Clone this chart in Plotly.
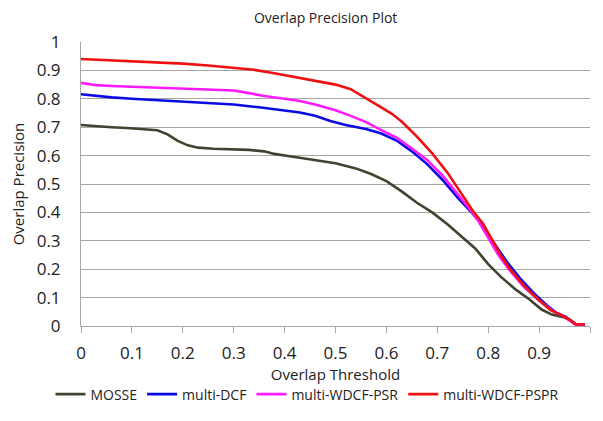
import plotly.graph_objects as go

mosse_x = [0, 0.03, 0.06, 0.09, 0.12, 0.15, 0.17, 0.19, 0.21, 0.23, 0.26, 0.3, 0.33, 0.36, 0.38, 0.41, 0.45, 0.5, 0.54, 0.57, 0.6, 0.63, 0.66, 0.69, 0.72, 0.75, 0.775, 0.8, 0.825, 0.855, 0.88, 0.905, 0.925, 0.95, 0.962, 0.972, 0.99]
mosse_y = [0.708, 0.703, 0.70, 0.697, 0.694, 0.689, 0.675, 0.652, 0.636, 0.628, 0.624, 0.622, 0.620, 0.615, 0.606, 0.598, 0.588, 0.573, 0.555, 0.535, 0.510, 0.474, 0.434, 0.400, 0.358, 0.310, 0.272, 0.218, 0.173, 0.127, 0.095, 0.058, 0.040, 0.030, 0.020, 0.006, 0.005]

dcf_x = [0, 0.03, 0.06, 0.1, 0.15, 0.2, 0.25, 0.3, 0.35, 0.4, 0.43, 0.46, 0.49, 0.52, 0.56, 0.59, 0.62, 0.65, 0.68, 0.71, 0.74, 0.77, 0.79, 0.81, 0.837, 0.863, 0.89, 0.915, 0.935, 0.952, 0.972, 0.99]
dcf_y = [0.816, 0.81, 0.805, 0.800, 0.795, 0.79, 0.787, 0.78, 0.77, 0.76, 0.752, 0.74, 0.722, 0.708, 0.694, 0.678, 0.653, 0.615, 0.570, 0.515, 0.452, 0.395, 0.352, 0.296, 0.225, 0.167, 0.115, 0.073, 0.045, 0.033, 0.006, 0.005]

psr_x = [0, 0.03, 0.06, 0.1, 0.15, 0.2, 0.25, 0.3, 0.33, 0.36, 0.4, 0.43, 0.46, 0.5, 0.53, 0.56, 0.59, 0.62, 0.65, 0.68, 0.71, 0.74, 0.76, 0.78, 0.8, 0.82, 0.845, 0.87, 0.9, 0.925, 0.95, 0.97, 0.99]
psr_y = [0.856, 0.848, 0.845, 0.842, 0.838, 0.834, 0.831, 0.829, 0.82, 0.81, 0.80, 0.792, 0.78, 0.760, 0.74, 0.718, 0.69, 0.663, 0.625, 0.585, 0.530, 0.465, 0.42, 0.372, 0.31, 0.25, 0.19, 0.138, 0.09, 0.055, 0.032, 0.006, 0.005]

pspr_x = [0, 0.03, 0.06, 0.1, 0.15, 0.2, 0.25, 0.3, 0.34, 0.38, 0.42, 0.46, 0.5, 0.53, 0.56, 0.58, 0.61, 0.63, 0.66, 0.69, 0.72, 0.75, 0.77, 0.79, 0.81, 0.825, 0.843, 0.87, 0.896, 0.922, 0.949, 0.962, 0.972, 0.99]
pspr_y = [0.94, 0.938, 0.935, 0.931, 0.929, 0.924, 0.917, 0.91, 0.902, 0.89, 0.876, 0.862, 0.85, 0.834, 0.80, 0.78, 0.748, 0.72, 0.667, 0.608, 0.54, 0.46, 0.405, 0.36, 0.294, 0.248, 0.2, 0.143, 0.097, 0.057, 0.033, 0.02, 0.006, 0.005]

x_ticks = [0, 0.1, 0.2, 0.3, 0.4, 0.5, 0.6, 0.7, 0.8, 0.9, 1.0]
x_labels = ["0", "0.1", "0.2", "0.3", "0.4", "0.5", "0.6", "0.7", "0.8", "0.9", ""]
y_ticks = [0, 0.1, 0.2, 0.3, 0.4, 0.5, 0.6, 0.7, 0.8, 0.9, 1.0]
y_labels = ["0", "0.1", "0.2", "0.3", "0.4", "0.5", "0.6", "0.7", "0.8", "0.9", "1"]

series = [
    ("MOSSE", mosse_x, mosse_y, "#3c4530"),
    ("multi-DCF", dcf_x, dcf_y, "#0a0ae6"),
    ("multi-WDCF-PSR", psr_x, psr_y, "#ff1aff"),
    ("multi-WDCF-PSPR", pspr_x, pspr_y, "#f01010"),
]

FONT = "Open Sans"
fig = go.Figure()
for name, xs, ys, col in series:
    fig.add_trace(go.Scatter(x=xs, y=ys, name=name, mode="lines",
                             line=dict(color=col, width=2.6), cliponaxis=False))

fig.update_layout(
    width=603, height=421,
    margin=dict(l=81, r=13, t=42, b=94),
    paper_bgcolor="white", plot_bgcolor="white",
    font=dict(family=FONT, color="#222222"),
    title=dict(text="Overlap Precision Plot", x=0.54, xref="container", xanchor="center",
               y=0.957, yref="container", yanchor="middle",
               font=dict(size=14, family=FONT, color="#222222")),
    showlegend=True,
    legend=dict(orientation="h", x=-0.06, xanchor="left", xref="paper",
                y=-0.237, yref="paper", yanchor="middle",
                font=dict(size=14, family=FONT, color="#222222"),
                itemwidth=30, tracegroupgap=0, itemclick=False,
                bgcolor="rgba(0,0,0,0)"),
)
fig.update_xaxes(range=[0, 1], tickvals=x_ticks, ticktext=x_labels,
                 showgrid=False, zeroline=False, automargin=False,
                 showline=True, linecolor="#a6a6a6", linewidth=1,
                 ticks="outside", ticklen=6, tickcolor="#a6a6a6",
                 ticklabelstandoff=6,
                 tickfont=dict(size=17, family=FONT, color="#222222"),
                 title=dict(text="Overlap Threshold", standoff=0,
                            font=dict(size=15, family=FONT, color="#222222")))
fig.update_yaxes(range=[0, 1], tickvals=y_ticks, ticktext=y_labels,
                 showgrid=True, gridcolor="#a6a6a6", gridwidth=1,
                 zeroline=False, showline=True, linecolor="#a6a6a6", linewidth=1,
                 ticks="", ticklabelstandoff=16, automargin=False,
                 tickfont=dict(size=17, family=FONT, color="#222222"),
                 title=dict(text="Overlap Precision", standoff=8,
                            font=dict(size=15, family=FONT, color="#222222")))

fig.write_html("out.html")
